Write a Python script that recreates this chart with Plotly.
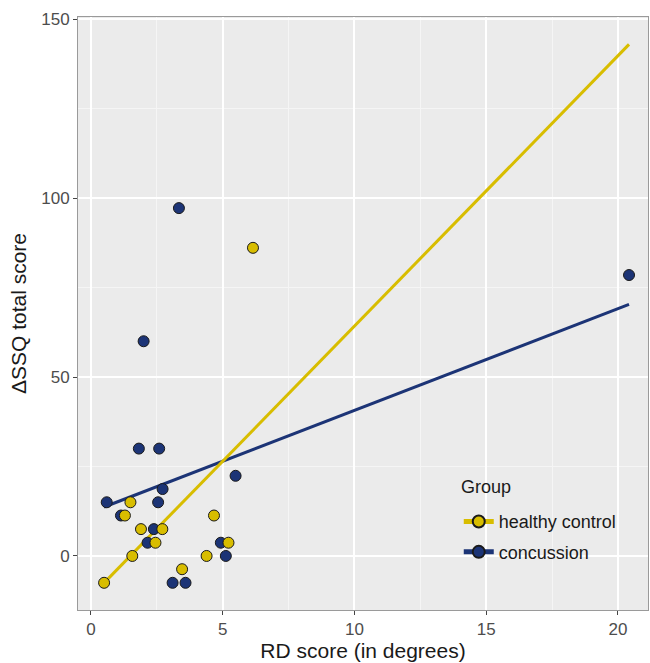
import numpy as np
import plotly.graph_objects as go

# data
hc_x = [1.50, 1.29, 4.67, 1.90, 2.71, 2.45, 5.22, 1.57, 4.39, 3.46, 0.50, 6.15]
hc_y = [15.0, 11.3, 11.3, 7.5, 7.5, 3.7, 3.7, 0.0, 0.0, -3.7, -7.5, 86.1]
cc_x = [1.82, 2.59, 5.49, 2.72, 0.60, 2.55, 1.14, 2.39, 2.15, 4.93, 5.12, 3.10, 3.59, 3.34, 2.00, 20.42]
cc_y = [30.0, 30.0, 22.4, 18.7, 15.0, 15.0, 11.3, 7.5, 3.7, 3.7, 0.0, -7.5, -7.5, 97.2, 60.0, 78.5]
groups = ["healthy control", "concussion"]
x_ticks = [0, 5, 10, 15, 20]
y_ticks = [0, 50, 100, 150]

YEL = "#D8BD00"
BLU = "#1C3476"

xmin = min(hc_x + cc_x)
xmax = max(hc_x + cc_x)
xl = np.array([xmin, xmax])

fig = go.Figure()
# regression lines (lm fit, full range)
for xs, ys, col in [(cc_x, cc_y, BLU), (hc_x, hc_y, YEL)]:
    b, a = np.polyfit(xs, ys, 1)
    fig.add_trace(go.Scatter(x=xl, y=a + b * xl, mode="lines",
                             line=dict(color=col, width=3), showlegend=False, hoverinfo="skip"))
# points
fig.add_trace(go.Scatter(x=cc_x, y=cc_y, mode="markers", showlegend=False,
                         marker=dict(color=BLU, size=11, line=dict(color="#1a1a1a", width=1))))
fig.add_trace(go.Scatter(x=hc_x, y=hc_y, mode="markers", showlegend=False,
                         marker=dict(color=YEL, size=11, line=dict(color="#1a1a1a", width=1))))
# legend entries
for name, col in zip(groups, [YEL, BLU]):
    fig.add_trace(go.Scatter(x=[None], y=[None], mode="lines+markers", name=name,
                             legendgroup=name,
                             line=dict(color=col, width=3),
                             marker=dict(color=col, size=10, line=dict(color="#1a1a1a", width=1))))

axis_common = dict(
    showline=True, linecolor="#9a9a9a", linewidth=1, mirror=True,
    ticks="outside", ticklen=4, tickcolor="#444", tickwidth=1,
    gridcolor="white", gridwidth=1.6, zeroline=False,
    tickfont=dict(family="Liberation Sans, Arial", size=17, color="#4D4D4D"),
)

fig.update_layout(
    width=650, height=663,
    margin=dict(l=78, r=2, t=17, b=53),
    paper_bgcolor="white", plot_bgcolor="#EBEBEB",
    font=dict(family="Liberation Sans, Arial"),
    xaxis=dict(range=[-0.49, 21.14], tickvals=x_ticks,
               title=dict(text="RD score (in degrees)", font=dict(size=21, color="#1a1a1a"), standoff=1),
               minor=dict(dtick=2.5, tick0=2.5, showgrid=True, gridcolor="#F5F5F5", gridwidth=0.8, ticks=""),
               **axis_common),
    yaxis=dict(range=[-15.1, 150.6], tickvals=y_ticks,
               title=dict(text="ΔSSQ total score", font=dict(size=21, color="#1a1a1a"), standoff=8),
               minor=dict(dtick=25, tick0=25, showgrid=True, gridcolor="#F5F5F5", gridwidth=0.8, ticks=""),
               **axis_common),
    legend=dict(x=0.668, y=0.18, xanchor="left", yanchor="top",
                bgcolor="rgba(0,0,0,0)", traceorder="grouped", tracegroupgap=4,
                font=dict(size=18, color="#1a1a1a"), itemsizing="constant"),
    annotations=[dict(text="Group", xref="paper", yref="paper", x=0.668, y=0.208,
                      xanchor="left", yanchor="middle", showarrow=False,
                      font=dict(size=18, color="#1a1a1a"))],
)

fig.write_html("out.html")
